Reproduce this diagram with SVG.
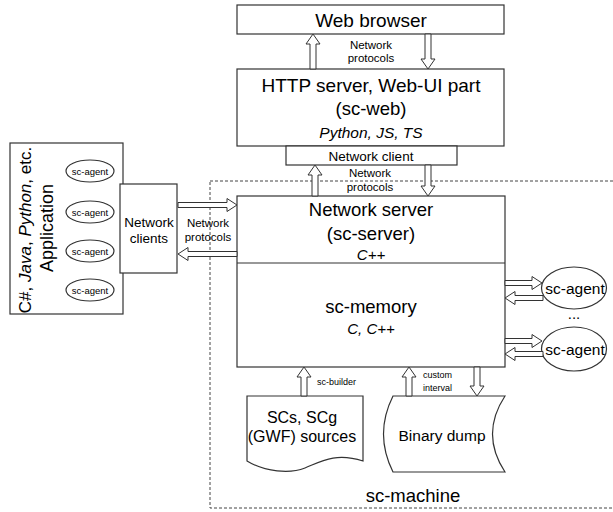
<svg xmlns="http://www.w3.org/2000/svg" width="613" height="512" viewBox="0 0 613 512">
<style>
.box{fill:#fff;stroke:#333;stroke-width:1.2}
.arr{fill:#fff;stroke:#333;stroke-width:1}
.t{font-family:"Liberation Sans",Arial,sans-serif;fill:#000;text-anchor:middle}
.s{font-family:"Liberation Sans",Arial,sans-serif;fill:#000}
.it{font-style:italic}
.dash{fill:none;stroke:#444;stroke-width:1;stroke-dasharray:3,2}
</style>
<rect width="613" height="512" fill="#fff"/>
<g id="sc-machine">
<rect class="dash" x="210" y="181" width="410" height="327"/>
<text class="t" x="413" y="502" font-size="18.5">sc-machine</text>
</g>
<g id="web-browser">
<rect class="box" x="237" y="5" width="267" height="29"/>
<text class="t" x="371" y="27" font-size="19">Web browser</text>
</g>
<g id="http-server">
<rect class="box" x="237" y="69" width="267" height="77"/>
<text class="t" x="371" y="92" font-size="19">HTTP server, Web-UI part</text>
<text class="t" x="371" y="115" font-size="18.5">(sc-web)</text>
<text class="t it" x="371" y="138" font-size="15.5">Python, JS, TS</text>
</g>
<g id="network-client">
<rect class="box" x="286" y="146" width="171" height="19"/>
<text class="t" x="371" y="160.5" font-size="13.5">Network client</text>
</g>
<g id="sc-server">
<rect class="box" x="237" y="196" width="268" height="171"/>
<line x1="237" y1="263" x2="505" y2="263" stroke="#333" stroke-width="1.2"/>
<text class="t" x="371" y="216" font-size="18.5">Network server</text>
<text class="t" x="371" y="240" font-size="18.5">(sc-server)</text>
<text class="t it" x="371" y="260" font-size="15">C++</text>
</g>
<g id="sc-memory">
<text class="t" x="371" y="313" font-size="18.5">sc-memory</text>
<text class="t it" x="371" y="334" font-size="15">C, C++</text>
</g>
<g id="application">
<rect class="box" x="10" y="143" width="113" height="171"/>
<text class="t" transform="translate(31,230) rotate(-90)" font-size="17">C#, <tspan font-style="italic">Java</tspan>, <tspan font-style="italic">Python</tspan>, etc.</text>
<text class="t" transform="translate(53,228) rotate(-90)" font-size="18">Application</text>
<ellipse class="box" cx="90" cy="171" rx="24" ry="11"/>
<text class="t" x="90" y="174.5" font-size="9.5">sc-agent</text>
<ellipse class="box" cx="90" cy="212" rx="24" ry="11"/>
<text class="t" x="90" y="215.5" font-size="9.5">sc-agent</text>
<ellipse class="box" cx="90" cy="251" rx="24" ry="11"/>
<text class="t" x="90" y="254.5" font-size="9.5">sc-agent</text>
<ellipse class="box" cx="90" cy="290" rx="24" ry="11"/>
<text class="t" x="90" y="293.5" font-size="9.5">sc-agent</text>
</g>
<g id="network-clients">
<rect class="box" x="120" y="184" width="57" height="89"/>
<text class="t" x="149" y="227" font-size="13.5">Network</text>
<text class="t" x="149" y="243" font-size="13.5">clients</text>
</g>
<g id="agent-1">
<ellipse class="box" cx="574" cy="288" rx="32.5" ry="21"/>
<text class="t" x="575" y="293.5" font-size="15.5">sc-agent</text>
</g>
<g id="agent-2">
<ellipse class="box" cx="574" cy="349" rx="32.5" ry="22"/>
<text class="t" x="575" y="354.5" font-size="15.5">sc-agent</text>
</g>
<text class="t" x="574" y="319" font-size="15">...</text>
<g id="scs-sources">
<path class="box" d="M247,396 H363 V461 C335,452 320,462 305,468 C290,474 265,472 247,461 Z"/>
<text class="t" x="302" y="423" font-size="16">SCs, SCg</text>
<text class="t" x="302" y="442" font-size="16">(GWF) sources</text>
</g>
<g id="binary-dump">
<path class="box" d="M393,396 H505 Q480,434 505,472 H393 Q374,434 393,396 Z"/>
<text class="t" x="442" y="441" font-size="15.5">Binary dump</text>
</g>
<g id="connectors">
<path class="arr" d="M310,69 V44 H306 L313,34 L320,44 H316 V69 Z"/>
<path class="arr" d="M425,34 V59 H421 L428,69 L435,59 H431 V34 Z"/>
<text class="t" x="371" y="49" font-size="11.5">Network</text>
<text class="t" x="371" y="62" font-size="11.5">protocols</text>
<path class="arr" d="M312,196 V175 H308 L315,165 L322,175 H318 V196 Z"/>
<path class="arr" d="M425,165 V186 H421 L428,196 L435,186 H431 V165 Z"/>
<text class="t" x="370" y="177" font-size="11.5">Network</text>
<text class="t" x="370" y="191" font-size="11.5">protocols</text>
<path class="arr" d="M178,202.5 H227 V198.5 L237,205 L227,211.5 V207.5 H178 Z"/>
<path class="arr" d="M237,251.5 H188 V247.5 L178,254 L188,260.5 V256.5 H237 Z"/>
<text class="t" x="208" y="227" font-size="11.5">Network</text>
<text class="t" x="208" y="241" font-size="11.5">protocols</text>
<path class="arr" d="M505,280.5 H532 V276.5 L542,283 L532,289.5 V285.5 H505 Z"/>
<path class="arr" d="M543,295.5 H515 V291.5 L505,298 L515,304.5 V300.5 H543 Z"/>
<path class="arr" d="M505,338.5 H532 V334.5 L542,341 L532,347.5 V343.5 H505 Z"/>
<path class="arr" d="M543,351.5 H515 V347.5 L505,354 L515,360.5 V356.5 H543 Z"/>
<path class="arr" d="M301,396 V377 H297 L304,367 L311,377 H307 V396 Z"/>
<text class="s" x="317" y="385" font-size="9">sc-builder</text>
<path class="arr" d="M406,396 V377 H402 L409,367 L416,377 H412 V396 Z"/>
<text class="s" x="423" y="378" font-size="9">custom</text>
<text class="s" x="423" y="391" font-size="9">interval</text>
<path class="arr" d="M474,367 V386 H470 L477,396 L484,386 H480 V367 Z"/>
</g>
</svg>
